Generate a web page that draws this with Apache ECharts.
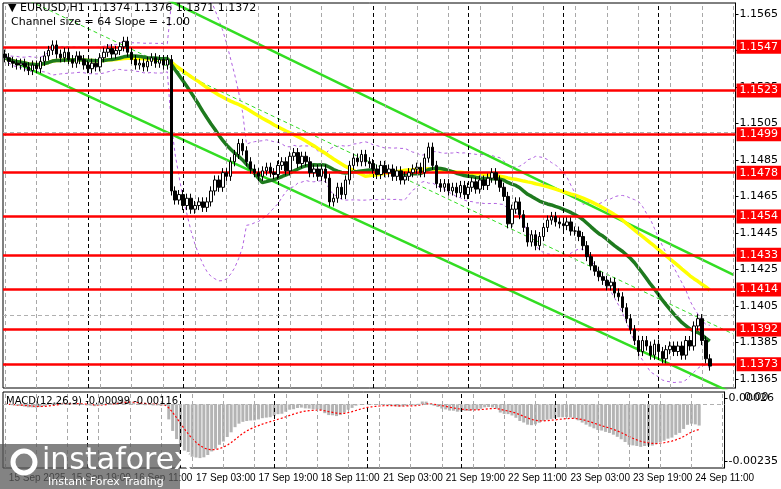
<!DOCTYPE html>
<html><head><meta charset="utf-8">
<script src="https://cdn.jsdelivr.net/npm/echarts@6/dist/echarts.min.js"></script>
<style>html,body{margin:0;padding:0;background:#fff}#c{width:781px;height:489px}</style>
</head><body><div id="c"></div>
<script>
const closes=[
1.1541,1.1539,1.1538,1.1537,1.1538,1.1536,1.1534,1.1537,1.1535,1.1539,
1.1542,1.1545,1.1548,1.1543,1.1541,1.1544,1.1540,1.1538,1.1542,1.1540,
1.1537,1.1535,1.1538,1.1536,1.1541,1.1544,1.1546,1.1543,1.1545,1.1547,
1.1550,1.1544,1.1540,1.1537,1.1538,1.1536,1.1539,1.1541,1.1538,1.1540,
1.1537,1.1540,1.1468,1.1463,1.1466,1.1460,1.1464,1.1458,1.1460,1.1462,
1.1459,1.1462,1.1468,1.1474,1.1470,1.1478,1.1476,1.1484,1.1488,1.1494,
1.1490,1.1484,1.1480,1.1478,1.1476,1.1479,1.1481,1.1478,1.1477,1.1482,
1.1484,1.1479,1.1487,1.1489,1.1483,1.1487,1.1484,1.1478,1.1480,1.1476,
1.1480,1.1475,1.1462,1.1464,1.1470,1.1466,1.1474,1.1482,1.1486,1.1484,
1.1488,1.1484,1.1483,1.1480,1.1477,1.1482,1.1478,1.1480,1.1476,1.1479,
1.1474,1.1476,1.1478,1.1480,1.1481,1.1478,1.1486,1.1492,1.1482,1.1472,
1.1470,1.1472,1.1468,1.1470,1.1467,1.1471,1.1466,1.1470,1.1473,1.1469,
1.1474,1.1471,1.1475,1.1478,1.1474,1.1470,1.1465,1.1450,1.1458,1.1462,
1.1455,1.1448,1.1440,1.1444,1.1438,1.1443,1.1448,1.1452,1.1454,1.1451,
1.1450,1.1449,1.1451,1.1446,1.1446,1.1443,1.1438,1.1432,1.1427,1.1424,
1.1421,1.1419,1.1416,1.1418,1.1412,1.1410,1.1404,1.1398,1.1392,1.1386,
1.1380,1.1386,1.1383,1.1378,1.1384,1.1380,1.1376,1.1381,1.1383,1.1380,
1.1383,1.1378,1.1386,1.1383,1.1394,1.1398,1.1386,1.1376,1.1372];
const firstOpen=1.1543;
const N=185;
const tickIdx=[1,17,33,49,65,81,97,113,129,145,161,177];
const tickText=['15 Sep 2025','15 Sep 19:00','16 Sep 11:00','17 Sep 03:00','17 Sep 19:00','18 Sep 11:00','21 Sep 03:00','21 Sep 19:00','22 Sep 11:00','23 Sep 03:00','23 Sep 19:00','24 Sep 11:00'];
const levels=[1.1547,1.1523,1.1499,1.1478,1.1454,1.1433,1.1414,1.1392,1.1373];
const priceTicks=[1.1565,1.1545,1.1525,1.1505,1.1485,1.1465,1.1445,1.1425,1.1405,1.1385,1.1365];
const macdTicks=[0.00026,-0.00235];
const channelUpper=[1.1616,1.1422];
const channelLower=[1.1541,1.1357];

const cats=[];for(let i=0;i<N;i++){const k=tickIdx.indexOf(i);cats.push(k>=0?tickText[k]:'');}
const candles=[];
for(let i=0;i<N;i++){
  if(i>=closes.length){candles.push('-');continue;}
  const o=i?closes[i-1]:firstOpen,c=closes[i];
  candles.push([o,c,Math.min(o,c)-0.00025,Math.max(o,c)+0.00025]);
}
function sma(p){return closes.map((_,i)=>{const s=closes.slice(Math.max(0,i-p+1),i+1);return s.reduce((a,b)=>a+b,0)/s.length;});}
function bb(p,k,sign){return closes.map((_,i)=>{const s=closes.slice(Math.max(0,i-p+1),i+1);const m=s.reduce((a,b)=>a+b,0)/s.length;const sd=Math.sqrt(s.reduce((a,b)=>a+(b-m)*(b-m),0)/s.length);return m+sign*k*sd;});}
function ema(arr,p){const a=2/(p+1);const out=[];arr.forEach((v,i)=>out.push(i?out[i-1]+a*(v-out[i-1]):v));return out;}
const e12=ema(closes,12),e26=ema(closes,26);
const macd=closes.map((_,i)=>e12[i]-e26[i]);
const sig=ema(macd,9);
const chanU=new Array(N).fill(null),chanL=new Array(N).fill(null),chanM=new Array(N).fill(null);
chanU[0]=channelUpper[0];chanU[N-1]=channelUpper[1];
chanL[0]=channelLower[0];chanL[N-1]=channelLower[1];
chanM[0]=(channelUpper[0]+channelLower[0])/2;chanM[N-1]=(channelUpper[1]+channelLower[1])/2;

const vlines=[];
for(let i=0;i<N;i+=8)vlines.push({xAxis:i,lineStyle:{color:'#a8a8a8',type:[4,3],width:1}});
for(let i=21;i<N;i+=24)vlines.push({xAxis:i,lineStyle:{color:'#000',type:[4,3],width:1}});
const hlines=priceTicks.map(v=>({yAxis:v,lineStyle:{color:'#b0b0b0',type:[4,3],width:1}}));
const font='Tahoma, "DejaVu Sans", sans-serif';
const chart=echarts.init(document.getElementById('c'));
const line=(name,data,color,width,type,idx)=>({type:'line',name,data,xAxisIndex:idx||0,yAxisIndex:idx||0,symbol:'none',silent:true,connectNulls:true,animation:false,lineStyle:{color,width,type:type||'solid'},z:3});
chart.setOption({
  animation:false,
  grid:[{left:3,right:40,top:3,height:385,show:true,borderColor:'#000',borderWidth:1},
        {left:3,right:40,top:392,height:76,show:true,borderColor:'#000',borderWidth:1}],
  xAxis:[{type:'category',data:cats,gridIndex:0,boundaryGap:true,axisLabel:{show:false},axisTick:{show:false},axisLine:{show:false},splitLine:{show:false}},
         {type:'category',data:cats,gridIndex:1,boundaryGap:true,axisLine:{show:false},axisTick:{show:false},
          axisLabel:{interval:0,formatter:v=>v,align:'left',color:'#000',fontSize:10,fontFamily:'"Liberation Sans", Arial, sans-serif',margin:5},splitLine:{show:false}}],
  yAxis:[{type:'value',gridIndex:0,position:'right',min:1.1360,max:1.1571,scale:true,splitLine:{show:false},
          axisLine:{show:true,lineStyle:{color:'#000'}},axisTick:{show:true,customValues:priceTicks,length:3,lineStyle:{color:'#000'}},
          axisLabel:{customValues:priceTicks,formatter:v=>v.toFixed(4),color:'#000',fontSize:11,fontFamily:font,margin:4}},
         {type:'value',gridIndex:1,position:'right',min:-0.00264,max:0.00051,splitLine:{show:false},
          axisLine:{show:true,lineStyle:{color:'#000'}},axisTick:{show:true,customValues:macdTicks,length:3,lineStyle:{color:'#000'}},
          axisLabel:{customValues:macdTicks,formatter:v=>v.toFixed(5),color:'#000',fontSize:11,fontFamily:font,margin:4}}],
  series:[
    {type:'line',data:[],xAxisIndex:0,yAxisIndex:0,silent:true,markLine:{symbol:'none',silent:true,label:{show:false},data:vlines.concat(hlines)},z:1},
    {type:'line',data:[],xAxisIndex:1,yAxisIndex:1,silent:true,markLine:{symbol:'none',silent:true,label:{show:false},
      data:vlines.concat([{yAxis:0.00026,lineStyle:{color:'#b0b0b0',type:[4,3],width:1}}])},z:1},
    line('bbU',bb(20,2,1),'#b060e0',1,[3,3]),
    line('bbL',bb(20,2,-1),'#b060e0',1,[3,3]),
    line('chU',chanU,'#33dd22',2.5),
    line('chL',chanL,'#33dd22',2.5),
    line('chM',chanM,'#33dd22',1,[4,3]),
    line('yellow',sma(50),'#ffff00',3.5),
    line('green',sma(24),'#1e7a1e',3.5),
    {type:'line',data:[],xAxisIndex:0,yAxisIndex:0,silent:true,z:6,
     markLine:{symbol:'none',silent:true,precision:4,
       data:levels.map(v=>({yAxis:v})),lineStyle:{color:'#ff0000',width:2.5,type:'solid'},
       label:{show:true,position:'end',distance:1,formatter:p=>Number(p.value).toFixed(4),color:'#fff',backgroundColor:'#ff0000',padding:[2,3,1,3],fontSize:11,fontFamily:font}}},
    {type:'candlestick',data:candles,xAxisIndex:0,yAxisIndex:0,barWidth:3,silent:true,z:7,
     itemStyle:{color:'#fff',color0:'#000',borderColor:'#000',borderColor0:'#000',borderWidth:1}},
    {type:'bar',data:macd,xAxisIndex:1,yAxisIndex:1,barWidth:3,silent:true,itemStyle:{color:'#b4b4b4'},z:2},
    line('signal',sig,'#ff0000',1.2,[2,2],1)
  ],
  graphic:[
    {type:'text',left:8,top:3,style:{text:'▼ EURUSD,H1  1.1374 1.1376 1.1371 1.1372',font:'11px '+font,fill:'#000'},z:10},
    {type:'text',left:11,top:17,style:{text:'Channel size = 64 Slope = -1.00',font:'11px '+font,fill:'#000'},z:10},
    {type:'text',left:6,top:396,style:{text:'MACD(12,26,9) -0.00099 -0.00116',font:'10px '+font,fill:'#000'},z:10},
    {type:'text',left:744,top:392,style:{text:'0.00',font:'11px '+font,fill:'#000'},z:10},
    {type:'rect',shape:{x:0,y:444,width:180,height:45},style:{fill:'rgba(90,90,90,0.75)'},z:20},
    {type:'circle',shape:{cx:24,cy:462,r:11},style:{fill:'none',stroke:'#fff',lineWidth:5},z:21},
    {type:'text',left:42,top:446,style:{text:'instaforex',font:'30px "DejaVu Sans", sans-serif',fill:'#fff'},z:21},
    {type:'text',left:48,top:477,style:{text:'Instant Forex Trading',font:'11px '+font,fill:'#fff'},z:21}
  ]
});
</script></body></html>
